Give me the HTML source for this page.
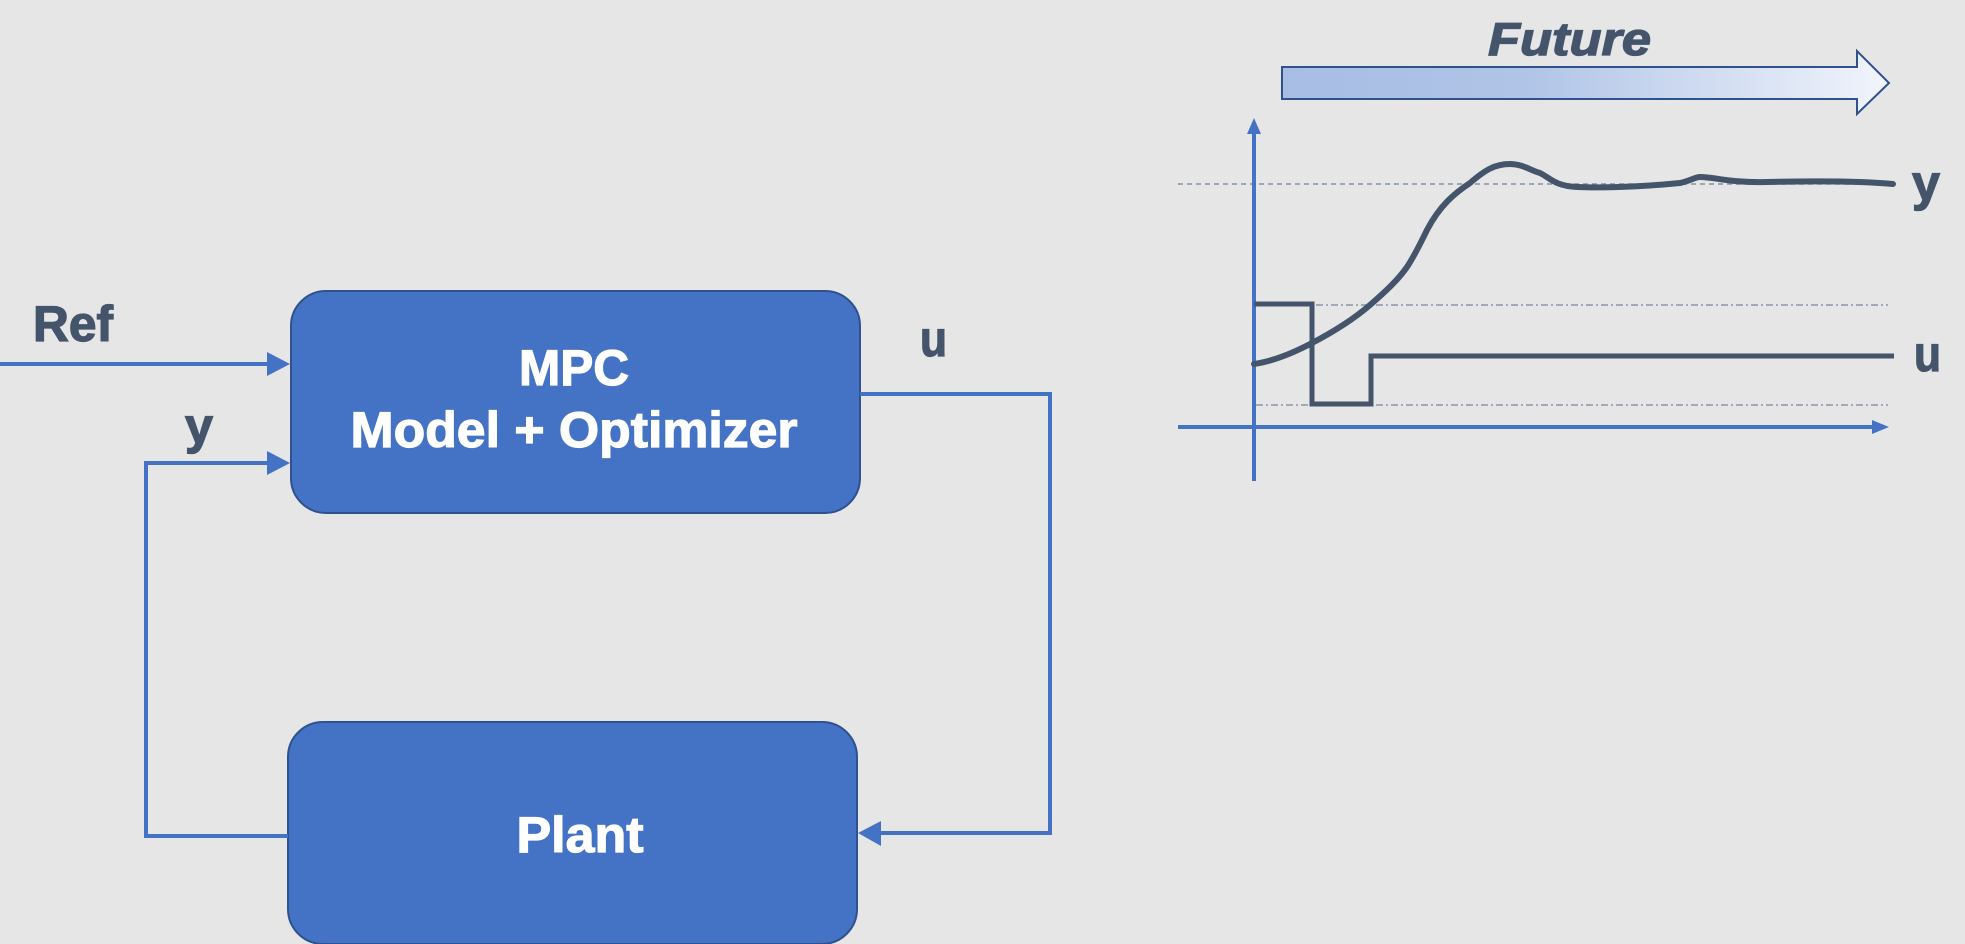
<!DOCTYPE html>
<html>
<head>
<meta charset="utf-8">
<style>
  html, body { margin: 0; padding: 0; background: #e6e6e6; }
  svg { display: block; }
  .lbl { font-family: "Liberation Sans", Arial, sans-serif; font-weight: bold; fill: #44546a; stroke: #44546a; stroke-width: 1.3; paint-order: stroke; }
  .wht { font-family: "Liberation Sans", Arial, sans-serif; font-weight: bold; fill: #ffffff; stroke: #ffffff; stroke-width: 1.2; }
</style>
</head>
<body>
<svg width="1965" height="944" viewBox="0 0 1965 944" xmlns="http://www.w3.org/2000/svg">
  <defs>
    <linearGradient id="fut" x1="0" y1="0" x2="1" y2="0">
      <stop offset="0" stop-color="#a7bde4"/>
      <stop offset="0.4" stop-color="#b0c4e7"/>
      <stop offset="0.75" stop-color="#d6e0f3"/>
      <stop offset="1" stop-color="#f1f4fb"/>
    </linearGradient>
  </defs>
  <rect x="0" y="0" width="1965" height="944" fill="#e6e6e6"/>

  <!-- ===== Block diagram ===== -->
  <!-- MPC box -->
  <rect x="291" y="291" width="569" height="222" rx="35" ry="35" fill="#4472c4" stroke="#2f528f" stroke-width="2"/>
  <text class="wht" x="574" y="385" font-size="50" text-anchor="middle" textLength="110" lengthAdjust="spacingAndGlyphs">MPC</text>
  <text class="wht" x="574" y="447" font-size="50" text-anchor="middle" textLength="447" lengthAdjust="spacingAndGlyphs">Model + Optimizer</text>

  <!-- Plant box -->
  <rect x="288" y="722" width="569" height="222" rx="35" ry="35" fill="#4472c4" stroke="#2f528f" stroke-width="2"/>
  <text class="wht" x="580" y="852" font-size="50" text-anchor="middle" textLength="127" lengthAdjust="spacingAndGlyphs">Plant</text>

  <!-- Ref input -->
  <line x1="0" y1="364" x2="270" y2="364" stroke="#4472c4" stroke-width="4"/>
  <polygon points="267,352 290,364 267,376" fill="#4472c4"/>
  <text class="lbl" x="33" y="341" font-size="50" textLength="80" lengthAdjust="spacingAndGlyphs">Ref</text>

  <!-- y feedback -->
  <polyline points="288,836 146,836 146,463 270,463" fill="none" stroke="#4472c4" stroke-width="4"/>
  <polygon points="267,451 290,463 267,475" fill="#4472c4"/>
  <text class="lbl" x="185" y="443" font-size="50" textLength="28" lengthAdjust="spacingAndGlyphs">y</text>

  <!-- u output -->
  <polyline points="860,394 1050,394 1050,833 878,833" fill="none" stroke="#4472c4" stroke-width="4"/>
  <polygon points="881,821 858,833 881,846" fill="#4472c4"/>
  <text class="lbl" x="920" y="356" font-size="50" textLength="27" lengthAdjust="spacingAndGlyphs">u</text>

  <!-- ===== Chart ===== -->
  <!-- Future arrow -->
  <polygon points="1282,67 1857,67 1857,51 1889,83 1857,114 1857,99 1282,99" fill="url(#fut)" stroke="#2f528f" stroke-width="2" stroke-linejoin="miter"/>
  <text class="lbl" x="1488" y="55" font-size="46" font-style="italic" textLength="163" lengthAdjust="spacingAndGlyphs">Future</text>

  <!-- reference dashed line -->
  <line x1="1178" y1="184" x2="1880" y2="184" stroke="#8492a6" stroke-width="1.5" stroke-dasharray="5 4"/>
  <!-- constraint dash-dot lines -->
  <line x1="1256" y1="305" x2="1888" y2="305" stroke="#8a96aa" stroke-width="1.5" stroke-dasharray="7 3 2 3"/>
  <line x1="1256" y1="405" x2="1888" y2="405" stroke="#8a96aa" stroke-width="1.5" stroke-dasharray="7 3 2 3"/>

  <!-- axes -->
  <line x1="1254" y1="481" x2="1254" y2="132" stroke="#4472c4" stroke-width="4"/>
  <polygon points="1247,134 1254,118 1261,134" fill="#4472c4"/>
  <line x1="1178" y1="427" x2="1875" y2="427" stroke="#4472c4" stroke-width="4"/>
  <polygon points="1872,420 1889,427 1872,434" fill="#4472c4"/>

  <!-- u step -->
  <path d="M1254,304 H1312 V404 H1371 V356 H1894" fill="none" stroke="#44546a" stroke-width="5"/>

  <!-- y curve -->
  <path d="M1254,364
           C1275,361 1295,352 1312,343
           C1335,331 1355,318 1370,305
           C1385,292 1398,280 1407,267
           C1415,255 1421,242 1427,230
           C1440,205 1455,193 1470,183
           C1485,170 1495,164 1510,164
           C1522,164 1530,170 1540,173
           C1550,178 1555,186 1577,187
           C1600,188 1640,187 1680,183
           C1690,181 1695,177 1700,177
           C1715,177 1730,183 1767,182
           C1810,181 1860,181 1893,184"
        fill="none" stroke="#44546a" stroke-width="6" stroke-linecap="round" stroke-linejoin="round"/>

  <text class="lbl" x="1912" y="200" font-size="50" textLength="28" lengthAdjust="spacingAndGlyphs">y</text>
  <text class="lbl" x="1914" y="371" font-size="50" textLength="27" lengthAdjust="spacingAndGlyphs">u</text>
</svg>
</body>
</html>
